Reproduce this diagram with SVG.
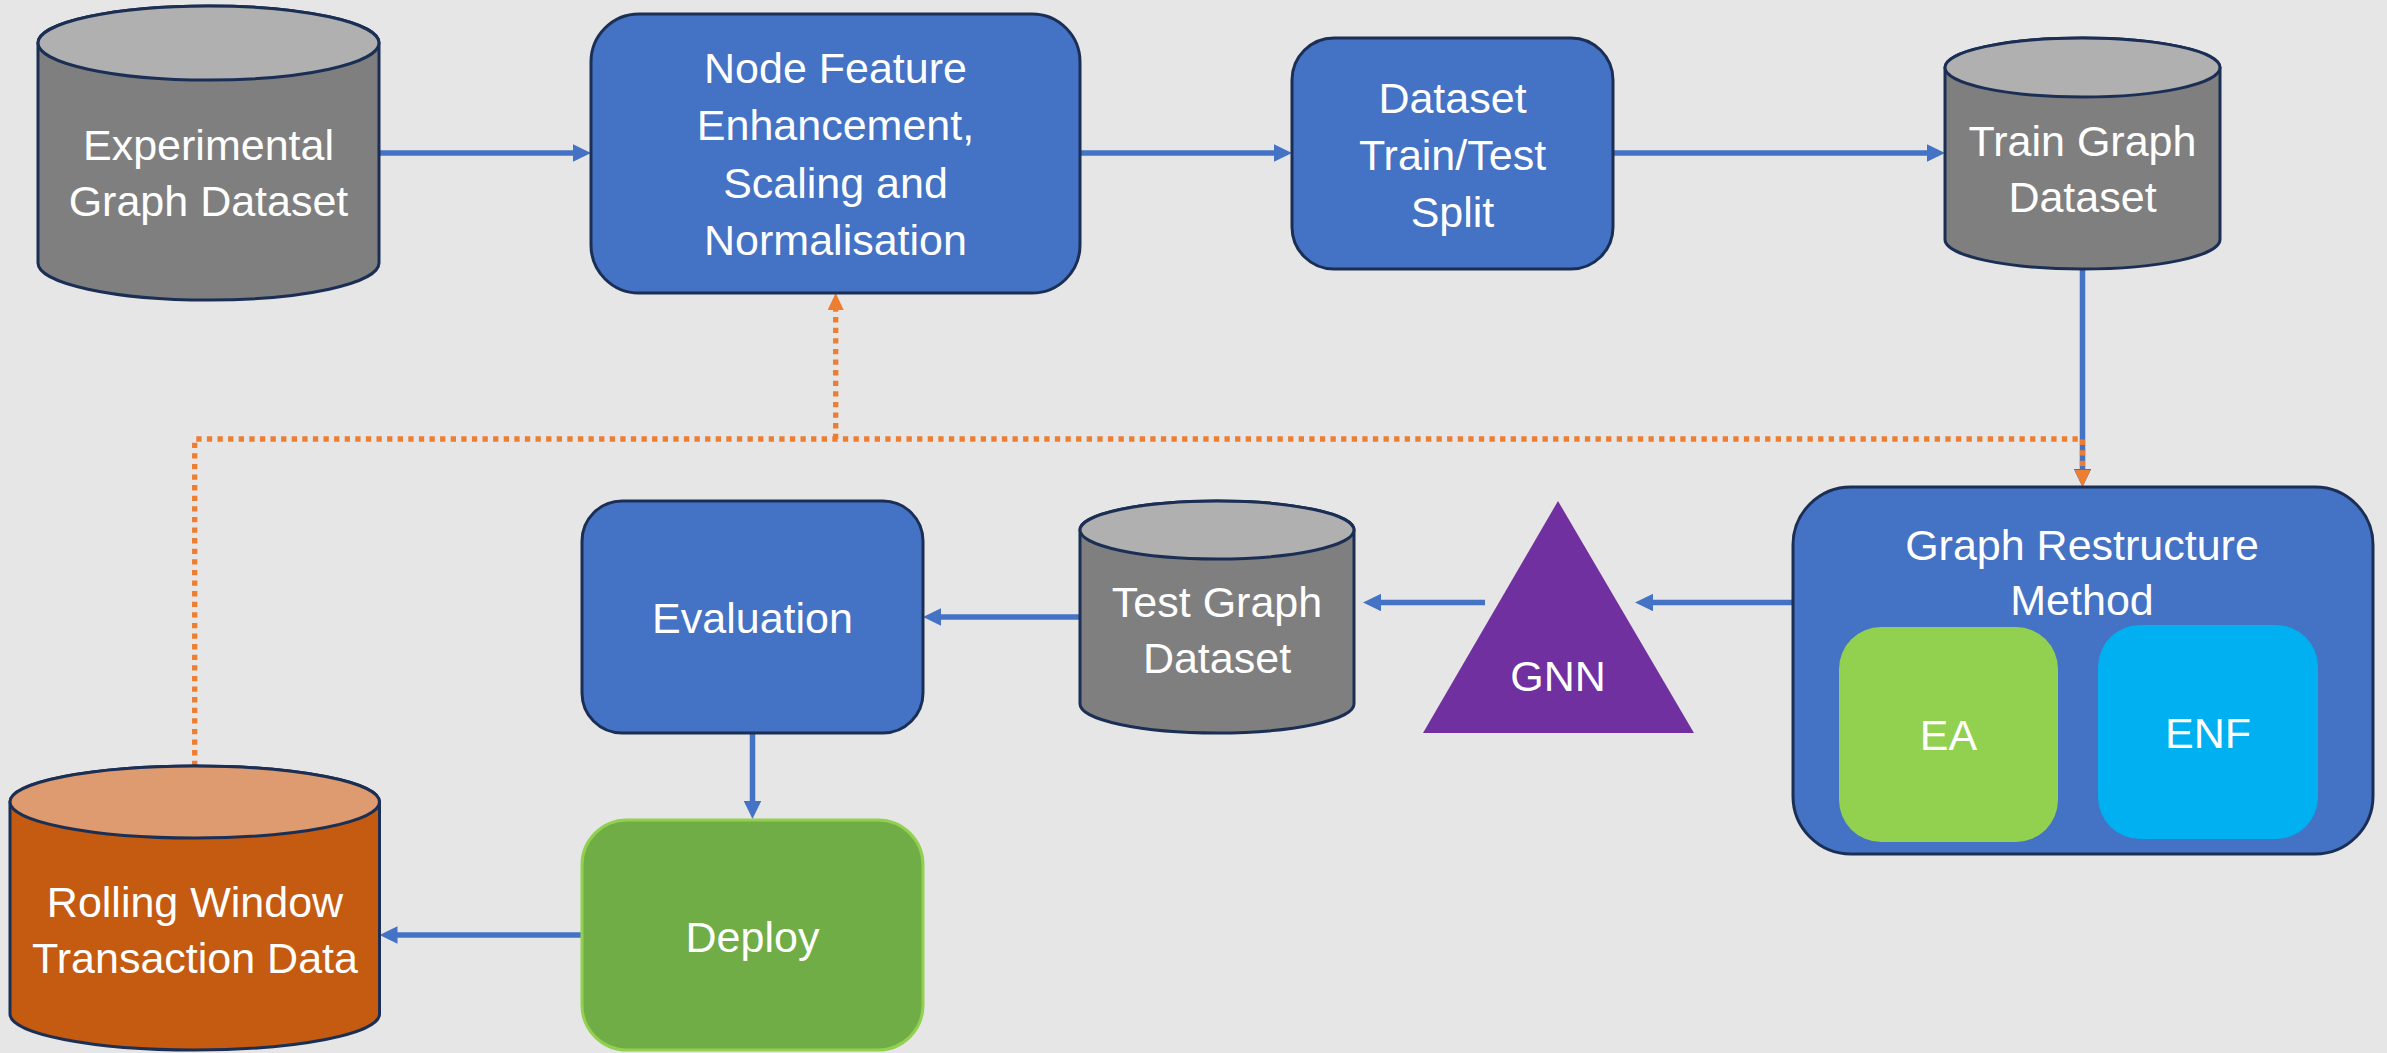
<svg xmlns="http://www.w3.org/2000/svg" width="2387" height="1053" viewBox="0 0 2387 1053">
  <defs>
    <style>
      .lbl { font-family: "Liberation Sans", Arial, sans-serif; font-size: 43px; fill: #FFFFFF; text-anchor: middle; }
      .box { fill: #4472C4; stroke: #1B2F55; stroke-width: 3; }
      .cyl-body { fill: #7F7F7F; stroke: #1B2F55; stroke-width: 3; }
      .cyl-top { fill: #B0B0B0; stroke: #1B2F55; stroke-width: 3; }
      .cyl-body-o { fill: #C55A11; stroke: #1B2F55; stroke-width: 3; }
      .cyl-top-o { fill: #DD9B6F; stroke: #1B2F55; stroke-width: 3; }
      .flow { fill: none; stroke: #4472C4; stroke-width: 5.5; marker-end: url(#arrowBlue); }
      .feedback { fill: none; stroke: #ED7D31; stroke-width: 5.3; stroke-dasharray: 5.3 5.3; marker-end: url(#arrowOrange); }
    </style>
    <marker id="arrowBlue" viewBox="0 0 18 17.4" markerWidth="18" markerHeight="17.4" refX="4" refY="8.7" orient="auto" markerUnits="userSpaceOnUse">
      <path d="M0,0 L18,8.7 L0,17.4 Z" fill="#4472C4"/>
    </marker>
    <marker id="arrowOrange" viewBox="0 0 17 16" markerWidth="17" markerHeight="16" refX="3" refY="8" orient="auto" markerUnits="userSpaceOnUse">
      <path d="M0,0 L17,8 L0,16 Z" fill="#ED7D31"/>
    </marker>
  </defs>

  <rect x="0" y="0" width="2387" height="1053" fill="#E7E6E6"/>

  <!-- Connectors -->
  <g id="connectors">
    <path class="flow" d="M379,153 H577"/>
    <path class="flow" d="M1080,153 H1278"/>
    <path class="flow" d="M1613,153 H1931"/>
    <path class="flow" d="M2082.5,269 V473"/>
    <path class="flow" d="M1793,602.5 H1649"/>
    <path class="flow" d="M1485,602.5 H1377"/>
    <path class="flow" d="M1080,617 H937"/>
    <path class="flow" d="M752.5,733 V805"/>
    <path class="flow" d="M582,935 H393.5"/>
    <!-- feedback loop from the rolling window data -->
    <path class="feedback" d="M194.7,766 V439 H2082.5 V473"/>
    <path class="feedback" d="M835.7,439 V307"/>
  </g>

  <!-- Experimental Graph Dataset -->
  <g id="experimental-dataset">
    <path class="cyl-body" d="M38,43 V263 A170.5,37 0 0 0 379,263 V43 A170.5,37 0 0 0 38,43 Z"/>
    <ellipse class="cyl-top" cx="208.5" cy="43" rx="170.5" ry="37"/>
    <text class="lbl" x="208.5" y="160">Experimental</text>
    <text class="lbl" x="208.5" y="216">Graph Dataset</text>
  </g>

  <!-- Node Feature Enhancement -->
  <g id="node-feature">
    <rect class="box" x="591" y="14" width="489" height="279" rx="48" ry="48"/>
    <text class="lbl" x="835.5" y="83">Node Feature</text>
    <text class="lbl" x="835.5" y="140">Enhancement,</text>
    <text class="lbl" x="835.5" y="197.5">Scaling and</text>
    <text class="lbl" x="835.5" y="255">Normalisation</text>
  </g>

  <!-- Dataset Train/Test Split -->
  <g id="train-test-split">
    <rect class="box" x="1292" y="38" width="321" height="231" rx="42" ry="42"/>
    <text class="lbl" x="1452.5" y="112.5">Dataset</text>
    <text class="lbl" x="1452.5" y="169.5">Train/Test</text>
    <text class="lbl" x="1452.5" y="226.5">Split</text>
  </g>

  <!-- Train Graph Dataset -->
  <g id="train-dataset">
    <path class="cyl-body" d="M1945,67.5 V239.5 A137.5,29.5 0 0 0 2220,239.5 V67.5 A137.5,29.5 0 0 0 1945,67.5 Z"/>
    <ellipse class="cyl-top" cx="2082.5" cy="67.5" rx="137.5" ry="29.5"/>
    <text class="lbl" x="2082.5" y="156">Train Graph</text>
    <text class="lbl" x="2082.5" y="212">Dataset</text>
  </g>

  <!-- Graph Restructure Method -->
  <g id="graph-restructure">
    <rect class="box" x="1793" y="487" width="580" height="367" rx="58" ry="58"/>
    <text class="lbl" x="2082" y="560">Graph Restructure</text>
    <text class="lbl" x="2082" y="615">Method</text>
    <g id="ea">
      <rect x="1839" y="627" width="219" height="215" rx="42" ry="42" fill="#92D050"/>
      <text class="lbl" x="1948.5" y="750">EA</text>
    </g>
    <g id="enf">
      <rect x="2098" y="625" width="220" height="214" rx="42" ry="42" fill="#00B0F0"/>
      <text class="lbl" x="2208" y="748">ENF</text>
    </g>
  </g>

  <!-- GNN -->
  <g id="gnn">
    <polygon points="1558,501 1694,733 1423,733" fill="#7030A0"/>
    <text class="lbl" x="1558" y="691">GNN</text>
  </g>

  <!-- Test Graph Dataset -->
  <g id="test-dataset">
    <path class="cyl-body" d="M1080,530 V704 A137,29 0 0 0 1354,704 V530 A137,29 0 0 0 1080,530 Z"/>
    <ellipse class="cyl-top" cx="1217" cy="530" rx="137" ry="29"/>
    <text class="lbl" x="1217" y="617">Test Graph</text>
    <text class="lbl" x="1217" y="673">Dataset</text>
  </g>

  <!-- Evaluation -->
  <g id="evaluation">
    <rect class="box" x="582" y="501" width="341" height="232" rx="40" ry="40"/>
    <text class="lbl" x="752.5" y="632.5">Evaluation</text>
  </g>

  <!-- Deploy -->
  <g id="deploy">
    <rect x="582" y="820" width="341" height="230" rx="45" ry="45" fill="#70AD47" stroke="#92D050" stroke-width="3"/>
    <text class="lbl" x="752.5" y="952">Deploy</text>
  </g>

  <!-- Rolling Window Transaction Data -->
  <g id="rolling-window">
    <path class="cyl-body-o" d="M10,802 V1014 A184.75,36 0 0 0 379.5,1014 V802 A184.75,36 0 0 0 10,802 Z"/>
    <ellipse class="cyl-top-o" cx="194.75" cy="802" rx="184.75" ry="36"/>
    <text class="lbl" x="195" y="917">Rolling Window</text>
    <text class="lbl" x="195" y="973">Transaction Data</text>
  </g>
</svg>
